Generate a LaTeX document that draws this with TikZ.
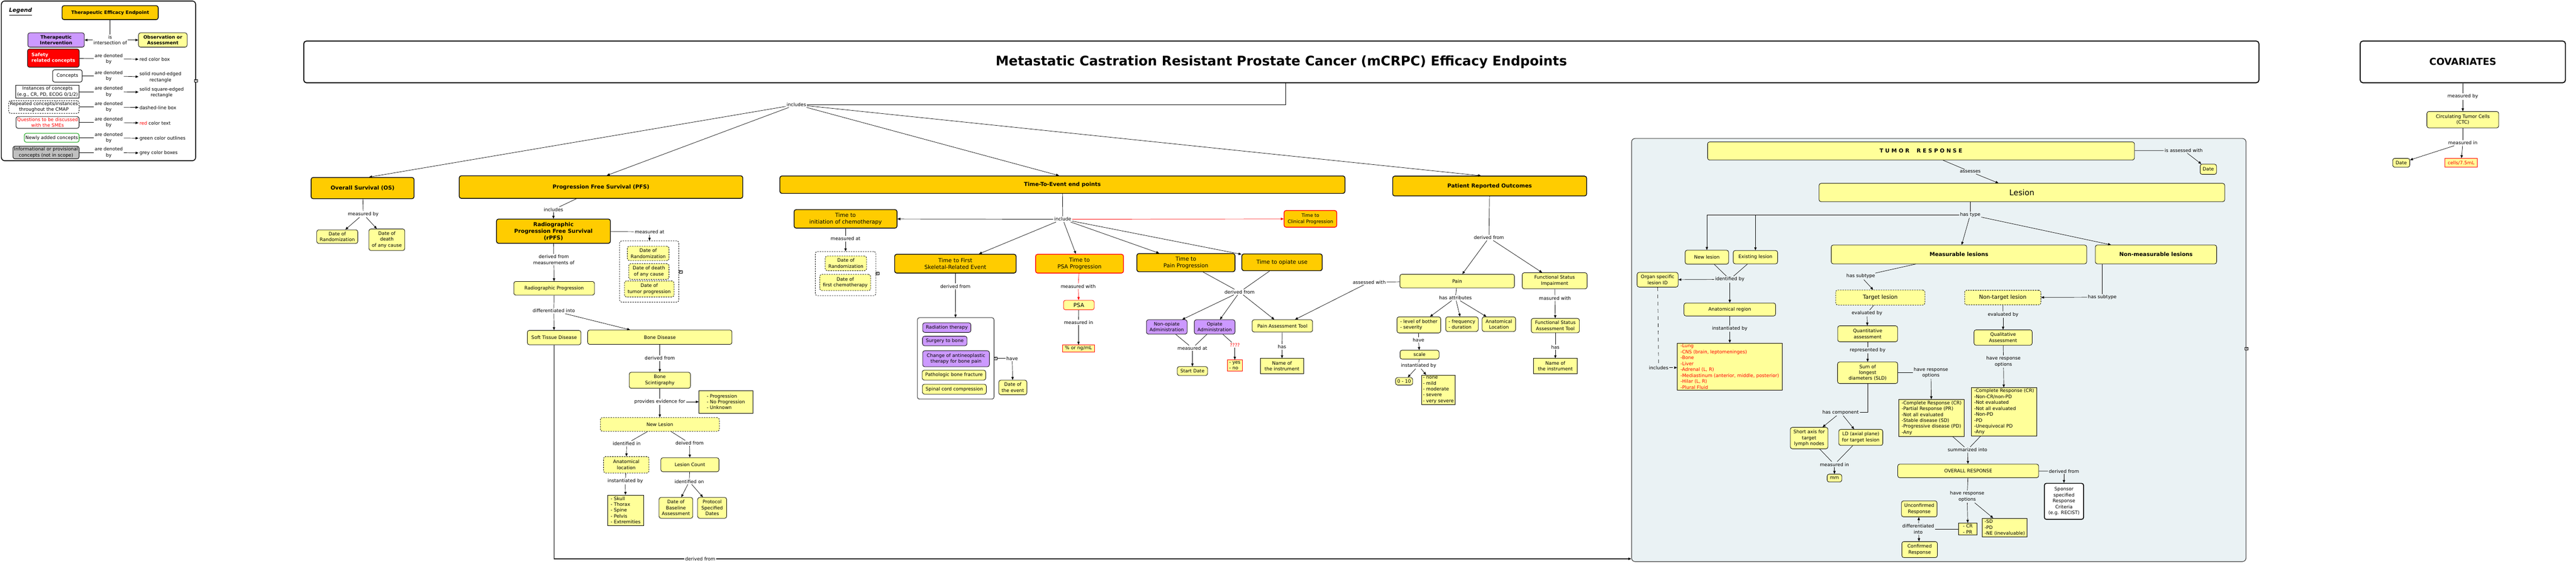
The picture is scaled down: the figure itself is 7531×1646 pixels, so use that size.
\documentclass[tikz,border=0pt]{standalone}
\usepackage{fontspec}
\setmainfont{DejaVu Sans}
\usetikzlibrary{arrows.meta}

\definecolor{cmOrange}{RGB}{255,204,0}
\definecolor{cmYellow}{RGB}{255,255,153}
\definecolor{cmPurple}{RGB}{204,153,255}
\definecolor{cmPanel}{RGB}{234,242,244}
\definecolor{cmGray}{RGB}{192,192,192}

\newcommand\fsA{\fontsize{3.9}{4.9}\selectfont}
\newcommand\fsB{\fontsize{4.55}{5.7}\selectfont}
\newcommand\fsC{\fontsize{4.5}{5.6}\selectfont\bfseries}
\newcommand\fsL{\fontsize{3.85}{4.8}\selectfont}
\newcommand\fsT{\fontsize{11}{13}\selectfont\bfseries}

\tikzset{
  sz/.style 2 args={minimum width=#1*0.1mm,minimum height=#2*0.1mm},
  lbl/.style={font=\fsA,inner sep=0.6pt,align=center},
  ybox/.style={draw,rounded corners=0.6mm,fill=cmYellow,font=\fsA,align=center,inner sep=1pt,line width=0.35pt},
  ysq/.style={draw,fill=cmYellow,font=\fsA,align=left,inner sep=1pt,line width=0.35pt},
  ydash/.style={ybox,dash pattern=on 0.4mm off 0.3mm},
  pbox/.style={ybox,fill=cmPurple},
  obox/.style={draw,rounded corners=0.6mm,fill=cmOrange,font=\fsB,align=center,inner sep=1pt,line width=0.6pt},
  otop/.style={obox,font=\fsC},
  mk/.style={draw,fill=white,inner sep=0.2pt,font=\fontsize{3.4}{4}\selectfont,line width=0.3pt},
  link/.style={line width=0.3pt},
  arr/.style={link,-{Triangle[length=0.85mm,width=0.7mm]}},
}

\begin{document}
\begin{tikzpicture}[x=0.1mm,y=-0.1mm]
\useasboundingbox (0,0) rectangle (7531,1646);

% legend
\node[draw,rounded corners=1mm,line width=0.7pt,sz={568}{467}] (lgBox) at (288,236.5) {};
\node[font=\fontsize{4.6}{5.6}\selectfont\bfseries\itshape] (lgTitle) at (60,35) {\underline{Legend}};
\node[obox,font=\fsL\bfseries,sz={281}{41}] (lgTEE) at (322,37) {Therapeutic Efficacy Endpoint};
\node[lbl,font=\fsL] (lgIs) at (322,117) {is\\intersection of};
\node[pbox,font=\fsL\bfseries,sz={165}{42}] (lgTI) at (164,117) {Therapeutic\\Intervention};
\node[ybox,font=\fsL\bfseries,sz={142}{42}] (lgOA) at (476,117) {Observation or\\Assessment};
\node[draw,rounded corners=0.6mm,fill=red,text=white,font=\fsL\bfseries,align=left,sz={146}{46}] (lgSafe) at (156,170) {Safety\\related concepts};
\node[lbl,font=\fsL] (lgDen1) at (318,172) {are denoted\\by};
\node[lbl,font=\fsL,anchor=west] (lgT1) at (405,174) {red color box};
\node[draw,rounded corners=0.6mm,font=\fsL,sz={70}{25}] (lgConc) at (197,222) {Concepts};
\node[lbl,font=\fsL] (lgDen2) at (318,222) {are denoted\\by};
\node[lbl,font=\fsL,anchor=west] (lgT2) at (405,226) {solid round-edged\\rectangle};
\node[draw,font=\fsL,align=center,inner sep=1pt,minimum height=3.2mm,anchor=east] (lgInst) at (232,268) {Instances of concepts\\(e.g., CR, PD, ECOG 0/1/2)};
\node[lbl,font=\fsL] (lgDen3) at (318,268) {are denoted\\by};
\node[lbl,font=\fsL,anchor=west] (lgT3) at (405,270) {solid square-edged\\rectangle};
\node[draw,rounded corners=0.6mm,dash pattern=on 0.4mm off 0.3mm,font=\fsL,align=center,inner sep=1pt,minimum height=3mm,anchor=east] (lgRep) at (232,313) {Repeated concepts/instances\\throughout the CMAP};
\node[lbl,font=\fsL] (lgDen4) at (318,313) {are denoted\\by};
\node[lbl,font=\fsL,anchor=west] (lgT4) at (405,315) {dashed-line box};
\node[draw,rounded corners=0.6mm,text=red,font=\fsL,align=center,inner sep=1pt,minimum height=3mm,anchor=east] (lgQ) at (232,358) {Questions to be discussed\\with the SMEs};
\node[lbl,font=\fsL] (lgDen5) at (318,358) {are denoted\\by};
\node[lbl,font=\fsL,anchor=west] (lgT5) at (405,360) {\textcolor{red}{red} color text};
\node[draw=green!60!black,rounded corners=0.6mm,font=\fsL,align=center,inner sep=1pt,minimum height=2.6mm,anchor=east] (lgNew) at (232,403) {Newly added concepts};
\node[lbl,font=\fsL] (lgDen6) at (318,403) {are denoted\\by};
\node[lbl,font=\fsL,anchor=west] (lgT6) at (405,405) {green color outlines};
\node[draw,rounded corners=0.6mm,fill=cmGray,font=\fsL,align=center,inner sep=1pt,minimum height=3.2mm,anchor=east] (lgGray) at (232,446) {Informational or provisional\\concepts (not in scope)};
\node[lbl,font=\fsL] (lgDen7) at (318,446) {are denoted\\by};
\node[lbl,font=\fsL,anchor=west] (lgT7) at (405,448) {grey color boxes};
\node[mk] (mkLg) at (573,236) {«};
\draw[link] (lgTEE) -- (lgIs);
\draw[arr] (lgIs) -- (lgTI);
\draw[arr] (lgIs) -- (lgOA);
\draw[link] (lgSafe) -- (lgDen1);
\draw[arr] (lgDen1) -- (lgT1);
\draw[link] (lgConc) -- (lgDen2);
\draw[arr] (lgDen2) -- (lgT2);
\draw[link] (lgInst) -- (lgDen3);
\draw[arr] (lgDen3) -- (lgT3);
\draw[link] (lgRep) -- (lgDen4);
\draw[arr] (lgDen4) -- (lgT4);
\draw[link] (lgQ) -- (lgDen5);
\draw[arr] (lgDen5) -- (lgT5);
\draw[link] (lgNew) -- (lgDen6);
\draw[arr] (lgDen6) -- (lgT6);
\draw[link] (lgGray) -- (lgDen7);
\draw[arr] (lgDen7) -- (lgT7);

% title and top level
\node[draw,rounded corners=0.8mm,line width=0.8pt,font=\fsT,sz={5716}{122}] (ttl) at (3746,181) {Metastatic Castration Resistant Prostate Cancer (mCRPC) Efficacy Endpoints};
\coordinate (ttlFoot) at (3758,242);
\node[lbl] (inc) at (2328,306) {includes};
\node[otop,sz={301}{62}] (os) at (1060,550) {Overall Survival (OS)};
\node[otop,sz={829}{66}] (pfs) at (1757,547) {Progression Free Survival (PFS)};
\node[otop,sz={1652}{51}] (tte) at (3106,540) {Time-To-Event end points};
\node[otop,sz={567}{58}] (pro) at (4355,544) {Patient Reported Outcomes};
\draw[link] (ttlFoot) |- (inc);
\draw[arr] (inc) -- ([xshift=1.9mm]os.north);
\draw[arr] (inc) -- ([xshift=1.7mm]pfs.north);
\draw[arr] (inc) -- ([xshift=-1mm]tte.north);
\draw[arr] (inc) -- ([xshift=-2.5mm]pro.north);

% overall survival
\node[lbl] (osMeas) at (1062,626) {measured by};
\node[ybox,sz={120}{40}] (osRand) at (986,692) {Date of\\Randomization};
\node[ybox,sz={105}{63}] (osDeath) at (1131,701) {Date of\\death\\of any cause};
\draw[link] (os) -- (osMeas);
\draw[arr] (osMeas) -- (osRand);
\draw[arr] (osMeas) -- (osDeath);

% progression free survival
\node[lbl] (pfsInc) at (1618,613) {includes};
\node[otop,sz={333}{71}] (rpfs) at (1618,676) {Radiographic\\Progression Free Survival\\(rPFS)};
\node[lbl] (pfsMeas) at (1899,678) {measured at};
\node[draw,rounded corners=0.6mm,dash pattern=on 0.4mm off 0.3mm,line width=0.35pt,sz={173}{179}] (pfsDates) at (1898,794) {};
\node[ydash,sz={122}{42}] (pfsRand) at (1895,741) {Date of\\Randomization};
\node[ydash,sz={118}{46}] (pfsDeath) at (1897,794) {Date of death\\of any cause};
\node[ydash,sz={145}{47}] (pfsTumor) at (1898,845) {Date of\\tumor progression};
\node[mk] (mkPfs) at (1990,795) {«};
\node[lbl] (rpDer) at (1619,759) {derived from\\measurements of};
\node[ybox,sz={236}{40}] (rp) at (1620,843) {Radiographic Progression};
\node[lbl] (rpDiff) at (1619,909) {differentiated into};
\node[ybox,sz={157}{42}] (std) at (1620,987) {Soft Tissue Disease};
\node[ybox,sz={422}{42}] (bd) at (1929,986) {Bone Disease};
\node[lbl] (bdDer) at (1929,1047) {derived from};
\node[ybox,sz={179}{47}] (bs) at (1929,1112) {Bone\\Scintigraphy};
\node[lbl] (bsProv) at (1929,1175) {provides evidence for};
\node[ysq,sz={157}{66}] (progList) at (2122,1175) {- Progression\\- No Progression\\- Unknown};
\node[ydash,sz={348}{40}] (nl) at (1929,1241) {New Lesion};
\node[lbl] (nlIdIn) at (1832,1297) {identified in};
\node[lbl] (nlDer) at (2016,1296) {deived from};
\node[ydash,sz={133}{48}] (al) at (1831,1359) {Anatomical\\location};
\node[ybox,sz={170}{41}] (lc) at (2017,1359) {Lesion Count};
\node[lbl] (alInst) at (1828,1407) {instantiated by};
\node[lbl] (lcIdOn) at (2015,1408) {identified on};
\node[ysq,sz={106}{89}] (skull) at (1829,1492) {- Skull\\- Thorax\\- Spine\\- Pelvis\\- Extremities};
\node[ybox,sz={99}{61}] (dba) at (1976,1485) {Date of\\Baseline\\Assessment};
\node[ybox,sz={85}{61}] (psd) at (2082,1485) {Protocol\\Specified\\Dates};
\node[lbl] (botDer) at (2047,1634) {derived from};
\draw[link] (pfs) -- (pfsInc);
\draw[arr] (pfsInc) -- (rpfs);
\draw[link] (rpfs) -- (pfsMeas);
\draw[arr] (pfsMeas) -- (pfsDates);
\draw[link] (rpfs) -- (rpDer);
\draw[arr] (rpDer) -- (rp);
\draw[link] (rp) -- (rpDiff);
\draw[arr] (rpDiff) -- (std);
\draw[arr] (rpDiff) -- (bd);
\draw[link] (bd) -- (bdDer);
\draw[arr] (bdDer) -- (bs);
\draw[link] (bs) -- (bsProv);
\draw[arr] (bsProv) -- (nl);
\draw[arr] (bsProv) -- (progList);
\draw[link] (nl) -- (nlIdIn);
\draw[arr] (nlIdIn) -- (al);
\draw[link] (nl) -- (nlDer);
\draw[arr] (nlDer) -- (lc);
\draw[link] (al) -- (alInst);
\draw[arr] (alInst) -- (skull);
\draw[link] (lc) -- (lcIdOn);
\draw[arr] (lcIdOn) -- (dba);
\draw[arr] (lcIdOn) -- (psd);

% time-to-event end points
\node[lbl] (tteInc) at (3107,641) {include};
\node[obox,sz={301}{54}] (tic) at (2472,640) {Time to\\initiation of chemotherapy};
\node[lbl] (ticMeas) at (2472,698) {measured at};
\node[draw,rounded corners=0.6mm,dash pattern=on 0.4mm off 0.3mm,line width=0.35pt,sz={177}{129}] (ticDates) at (2472,800) {};
\node[ydash,sz={121}{43}] (ticRand) at (2473,770) {Date of\\Randomization};
\node[ydash,sz={149}{47}] (ticChemo) at (2471,826) {Date of\\first chemotherapy};
\node[mk] (mkTic) at (2565,800) {«};
\node[obox,sz={355}{55}] (sre) at (2793,771) {Time to First\\Skeletal-Related Event};
\node[lbl] (sreDer) at (2793,837) {derived from};
\node[draw,rounded corners=0.6mm,fill=white,line width=0.35pt,sz={224}{238}] (sreBox) at (2794,1048) {};
\node[pbox,sz={141}{28}] (srRad) at (2768,958) {Radiation therapy};
\node[pbox,sz={130}{28}] (srSurg) at (2762,997) {Surgery to bone};
\node[pbox,sz={195}{47}] (srChg) at (2795,1049) {Change of antineoplastic\\therapy for bone pain};
\node[ybox,sz={186}{29}] (srFrac) at (2789,1097) {Pathologic bone fracture};
\node[ybox,sz={187}{29}] (srSpin) at (2790,1138) {Spinal cord compression};
\node[mk] (mkSre) at (2910,1048) {«};
\node[lbl] (sreHave) at (2959,1048) {have};
\node[ybox,sz={82}{43}] (dte) at (2961,1133) {Date of\\the event};
\node[obox,draw=red,sz={257}{55}] (tpsa) at (3156,771) {Time to\\PSA Progression};
\node[lbl] (psaMeas) at (3152,837) {measured with};
\node[ybox,draw=red,font=\fsB,sz={90}{28}] (psa) at (3154,892) {PSA};
\node[lbl] (psaIn) at (3153,943) {measured in};
\node[ysq,draw=red,sz={93}{21}] (pct) at (3153,1019) {\% or ng/mL};
\node[obox,sz={287}{53}] (tpp) at (3467,768) {Time to\\Pain Progression};
\node[obox,sz={235}{49}] (tou) at (3748,767) {Time to opiate use};
\node[obox,draw=red,font=\fsA,sz={154}{49}] (tcp) at (3831,640) {Time to\\Clinical Progression};
\node[lbl] (opDer) at (3624,854) {derived from};
\node[pbox,sz={119}{42}] (noa) at (3411,956) {Non-opiate\\Administration};
\node[pbox,sz={119}{42}] (oa) at (3551,956) {Opiate\\Administration};
\node[ybox,sz={177}{36}] (pat) at (3749,953) {Pain Assessment Tool};
\node[lbl] (opMeasAt) at (3486,1018) {measured at};
\node[lbl,text=red] (opQ) at (3610,1009) {????};
\node[ybox,sz={89}{26}] (sdate) at (3486,1085) {Start Date};
\node[ysq,draw=red,sz={43}{33}] (yesno) at (3610,1069) {- yes\\- no};
\node[lbl] (patHas) at (3748,1014) {has};
\node[ysq,align=center,sz={127}{44}] (ni1) at (3748,1070) {Name of\\the instrument};
\draw[link] (tte) -- (tteInc);
\draw[arr] (tteInc) -- (tic);
\draw[arr,red] (tteInc) -- (tcp);
\draw[arr] (tteInc) -- (sre);
\draw[arr] (tteInc) -- (tpsa);
\draw[arr] (tteInc) -- (tpp);
\draw[arr] (tteInc) -- (tou);
\draw[link] (tic) -- (ticMeas);
\draw[arr] (ticMeas) -- (ticDates);
\draw[link] (sre) -- (sreDer);
\draw[arr] (sreDer) -- (sreBox);
\draw[link] (mkSre) -- (sreHave);
\draw[arr] (sreHave) -- (dte);
\draw[link,red] (tpsa) -- (psaMeas);
\draw[arr,red] (psaMeas) -- (psa);
\draw[link] (psa) -- (psaIn);
\draw[arr] (psaIn) -- (pct);
\draw[link] (tpp) -- (opDer);
\draw[link] (tou) -- (opDer);
\draw[arr] (opDer) -- (noa);
\draw[arr] (opDer) -- (oa);
\draw[arr] (opDer) -- (pat);
\draw[link] (noa) -- (opMeasAt);
\draw[link] (oa) -- (opMeasAt);
\draw[arr] (opMeasAt) -- (sdate);
\draw[link] (oa) -- (opQ);
\draw[arr] (opQ) -- (yesno);
\draw[link] (pat) -- (patHas);
\draw[arr] (patHas) -- (ni1);

% patient reported outcomes
\node[lbl] (proDer) at (4353,695) {derived from};
\node[ybox,sz={335}{40}] (pain) at (4260,822) {Pain};
\node[ybox,sz={190}{47}] (fsi) at (4545,821) {Functional Status\\Impairment};
\node[lbl] (painAss) at (4003,825) {assessed with};
\node[lbl] (painAttr) at (4255,871) {has attributes};
\node[ybox,align=left,sz={128}{47}] (lb) at (4148,950) {- level of bother\\- severity};
\node[ybox,align=left,sz={95}{43}] (fd) at (4274,948) {- frequency\\- duration};
\node[ybox,sz={98}{43}] (anl) at (4382,948) {Anatomical\\Location};
\node[lbl] (fsiMas) at (4546,872) {masured with};
\node[ybox,sz={141}{42}] (fsat) at (4547,952) {Functional Status\\Assessment Tool};
\node[lbl] (fsatHas) at (4547,1015) {has};
\node[ysq,align=center,sz={127}{44}] (ni2) at (4547,1070) {Name of\\the instrument};
\node[lbl] (lbHave) at (4147,994) {have};
\node[ybox,sz={114}{26}] (scl) at (4150,1037) {scale};
\node[lbl] (sclInst) at (4147,1069) {instantiated by};
\node[ybox,sz={50}{22}] (sclNum) at (4105,1115) {0 - 10};
\node[ysq,sz={78}{70}] (sclList) at (4205,1140) {- none\\- mild\\- moderate\\- severe\\- very severe};
\draw[link] (pro) -- (proDer);
\draw[arr] (proDer) -- (pain);
\draw[arr] (proDer) -- (fsi);
\draw[link] (pain) -- (painAss);
\draw[arr] (painAss) -- (pat);
\draw[link] (pain) -- (painAttr);
\draw[arr] (painAttr) -- (lb);
\draw[arr] (painAttr) -- (fd);
\draw[arr] (painAttr) -- (anl);
\draw[link] (lb) -- (lbHave);
\draw[arr] (lbHave) -- (scl);
\draw[link] (scl) -- (sclInst);
\draw[arr] (sclInst) -- (sclNum);
\draw[arr] (sclInst) -- (sclList);
\draw[link] (fsi) -- (fsiMas);
\draw[arr] (fsiMas) -- (fsat);
\draw[link] (fsat) -- (fsatHas);
\draw[arr] (fsatHas) -- (ni2);

% tumor response panel
\node[draw=black!75,fill=cmPanel,rounded corners=1mm,line width=0.5pt,sz={1796}{1237}] (trp) at (5668,1023.5) {};
\node[mk] (mkTr) at (6568,1020) {«};
\node[ybox,font=\fsC,sz={1248}{53}] (tr) at (5616,441.5) {T U M O R \quad R E S P O N S E};
\node[lbl] (trAss) at (6384,440) {is assessed with};
\node[ybox,sz={48}{30}] (trDate) at (6456,495) {Date};
\node[lbl] (trAsses) at (5760,502) {assesses};
\node[ybox,font=\fontsize{6.5}{8}\selectfont,sz={1186}{54}] (lesion) at (5911,563) {Lesion};
\node[lbl] (lesType) at (5760,628) {has type};
\node[ybox,sz={127}{41}] (nlp) at (4990,752) {New lesion};
\node[ybox,sz={130}{39}] (exl) at (5132,752) {Existing lesion};
\node[ybox,font=\fsC,sz={747}{55}] (meas) at (5727,744) {Measurable lesions};
\node[ybox,font=\fsC,sz={355}{55}] (nonmeas) at (6303,744) {Non-measurable lesions};
\node[lbl] (measSub) at (5440,808) {has subtype};
\node[lbl] (nmSub) at (6146,869) {has subtype};
\node[ydash,font=\fsB,sz={261}{44}] (tgt) at (5497,870) {Target lesion};
\node[ydash,font=\fsB,sz={223}{43}] (ntgt) at (5855,870) {Non-target lesion};
\node[lbl] (tgtEval) at (5458,916) {evaluated by};
\node[ybox,sz={175}{47}] (qa) at (5460,976) {Quantitative\\assessment};
\node[lbl] (qaRep) at (5460,1024) {represented by};
\node[ybox,sz={176}{63}] (sld) at (5460,1090) {Sum of\\longest\\diameters (SLD)};
\node[lbl] (sldHave) at (5645,1090) {have response\\options};
\node[ysq,sz={191}{108}] (tOpts) at (5647,1222) {-Complete Response (CR)\\-Partial Response (PR)\\-Not all evaluated\\-Stable disease (SD)\\-Progressive disease (PD)\\-Any};
\node[lbl] (hasComp) at (5381,1206) {has component};
\node[ybox,sz={110}{63}] (sat) at (5289,1281) {Short axis for\\target\\lymph nodes};
\node[ybox,sz={129}{47}] (ldt) at (5440,1279) {LD (axial plane)\\for target lesion};
\node[lbl] (mIn) at (5363,1358) {measured in};
\node[ybox,sz={43}{23}] (mm) at (5363,1398) {mm};
\node[lbl] (ntEval) at (5856,920) {evaluated by};
\node[ybox,sz={170}{45}] (qual) at (5856,987) {Qualitative\\Assessment};
\node[lbl] (qualHave) at (5857,1057) {have response\\options};
\node[ysq,sz={190}{141}] (ntOpts) at (5859,1204) {-Complete Response (CR)\\-Non-CR/non-PD\\-Not evaluated\\-Not all evaluated\\-Non-PD\\-PD\\-Unequivocal PD\\-Any};
\node[lbl] (sumInto) at (5752,1315) {summarized into};
\node[ybox,sz={412}{40}] (ovr) at (5754,1377) {OVERALL RESPONSE};
\node[lbl] (orDer) at (6034,1378) {derived from};
\node[draw,rounded corners=0.6mm,fill=white,line width=0.7pt,font=\fsA,align=center,sz={114}{99}] (ssrc) at (6034,1466) {Sponsor\\specified\\Response\\Criteria\\(e.g. RECIST)};
\node[lbl] (orHave) at (5751,1452) {have response\\options};
\node[ysq,sz={55}{35}] (crpr) at (5753,1547) {- CR\\- PR};
\node[ysq,sz={131}{55}] (sdpd) at (5861,1543) {-SD\\-PD\\-NE (inevaluable)};
\node[lbl] (crDiff) at (5608,1547) {differentiated\\into};
\node[ybox,sz={104}{47}] (ur) at (5611,1488) {Unconfirmed\\Response};
\node[ybox,sz={104}{47}] (crs) at (5612,1607) {Confirmed\\Response};
\node[ybox,sz={120}{43}] (osl) at (4846,818) {Organ specific\\lesion ID};
\node[lbl] (idBy) at (5057,817) {identified by};
\node[ybox,sz={268}{38}] (ar) at (5057,905) {Anatomical region};
\node[lbl] (arInst) at (5057,961) {instantiated by};
\node[ysq,text=red,sz={307}{136}] (redList) at (5057,1072) {-Lung\\-CNS (brain, leptomeninges)\\-Bone\\-Liver\\-Adrenal (L, R)\\-Mediastinum (anterior, middle, posterior)\\-Hilar (L, R)\\-Plural Fluid};
\node[lbl] (oslInc) at (4849,1075) {includes};
\draw[link] (tr) -- (trAss);
\draw[arr] (trAss) -- (trDate);
\draw[link] (tr) -- (trAsses);
\draw[arr] (trAsses) -- (lesion);
\draw[link] (lesType) -- (lesType |- lesion.south);
\draw[arr] (lesType) -| (nlp);
\draw[arr] (exl |- lesType) -- (exl);
\draw[arr] (lesType) -- (meas);
\draw[arr] (lesType) -- (nonmeas);
\draw[link] (meas) -- (measSub);
\draw[arr] (measSub) -- (tgt);
\draw[link] (nmSub) -- (nmSub |- nonmeas.south);
\draw[arr] (nmSub) -- (ntgt);
\draw[link] (tgt) -- (tgtEval);
\draw[arr] (tgtEval) -- (qa);
\draw[link] (qa) -- (qaRep);
\draw[arr] (qaRep) -- (sld);
\draw[link] (sld) -- (sldHave);
\draw[arr] (sldHave) -- (tOpts);
\draw[link] (sld) |- (hasComp);
\draw[arr] (hasComp) -- (sat);
\draw[arr] (hasComp) -- (ldt);
\draw[link] (sat) -- (mIn);
\draw[link] (ldt) -- (mIn);
\draw[arr] (mIn) -- (mm);
\draw[link] (ntgt) -- (ntEval);
\draw[arr] (ntEval) -- (qual);
\draw[link] (qual) -- (qualHave);
\draw[arr] (qualHave) -- (ntOpts);
\draw[link] (tOpts) -- (sumInto);
\draw[link] (ntOpts) -- (sumInto);
\draw[arr] (sumInto) -- (ovr);
\draw[link] (ovr) -- (orDer);
\draw[arr] (orDer) -- (ssrc);
\draw[link] (ovr) -- (orHave);
\draw[arr] (orHave) -- (crpr);
\draw[arr] (orHave) -- (sdpd);
\draw[link] (crpr) -- (crDiff);
\draw[arr] (crDiff) -- (ur);
\draw[arr] (crDiff) -- (crs);
\draw[link] (nlp) -- (idBy);
\draw[link] (exl) -- (idBy);
\draw[arr] (idBy) -- (osl);
\draw[arr] (idBy) -- (ar);
\draw[link] (ar) -- (arInst);
\draw[arr] (arInst) -- (redList);
\draw[link,dashed] (osl) -- (oslInc);
\draw[arr,dashed] (oslInc) -- (oslInc -| redList.west);

% soft tissue disease to tumor response
\draw[link,line width=0.55pt] (std) |- (botDer);
\draw[arr,line width=0.55pt] (botDer) -- (botDer -| trp.west);

% covariates
\node[draw,rounded corners=0.8mm,line width=0.8pt,font=\fontsize{8}{10}\selectfont\bfseries,sz={600}{122}] (cov) at (7200,181) {COVARIATES};
\node[lbl] (covMeas) at (7200,282) {measured by};
\node[ybox,sz={210}{48}] (ctc) at (7200,350) {Circulating Tumor Cells\\(CTC)};
\node[lbl] (ctcIn) at (7200,418) {measured in};
\node[ybox,sz={50}{26}] (cdate) at (7020,476) {Date};
\node[ysq,draw=red,text=red,sz={95}{26}] (cunits) at (7195,476) {cells/7.5mL};
\draw[link] (cov) -- (covMeas);
\draw[arr] (covMeas) -- (ctc);
\draw[link] (ctc) -- (ctcIn);
\draw[arr] (ctcIn) -- (cdate);
\draw[arr] (ctcIn) -- (cunits);
\end{tikzpicture}
\end{document}
